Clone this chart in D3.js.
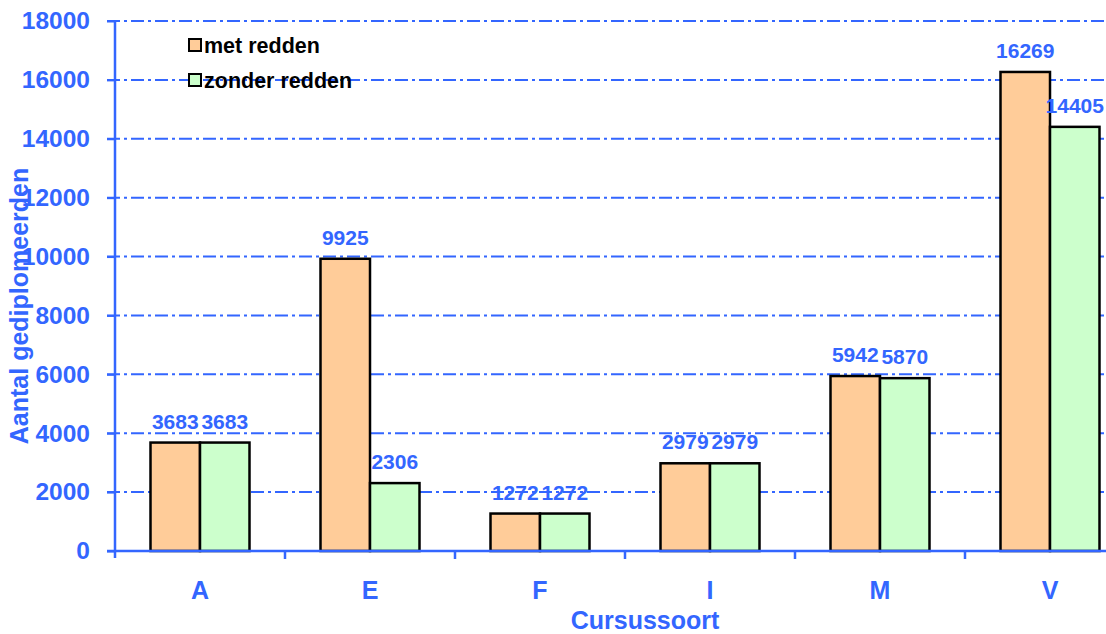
<!DOCTYPE html>
<html><head><meta charset="utf-8">
<script src="https://cdn.jsdelivr.net/npm/d3@7"></script>
<style>
body{margin:0;background:#fff;}
svg{display:block;font-family:"Liberation Sans",Arial,sans-serif;font-weight:bold;}
</style></head>
<body>
<svg id="chart" width="1106" height="634"></svg>
<script>
const categories = ["A","E","F","I","M","V"];
const seriesNames = ["met redden","zonder redden"];
const metRedden = [3683, 9925, 1272, 2979, 5942, 16269];
const zonderRedden = [3683, 2306, 1272, 2979, 5870, 14405];
const yTicks = [0,2000,4000,6000,8000,10000,12000,14000,16000,18000];
const colors = ["#FFCC99","#CCFFCC"];
const blue = "#3366FF";

const svg = d3.select("#chart");
const x0 = 115, y0 = 551, yTop = 21;
const x = d3.scaleBand().domain(categories).range([x0, x0 + 170*categories.length]).padding(0);
const xs = d3.scaleBand().domain(seriesNames).range([35.5, 134.5]).padding(0);
const y = d3.scaleLinear().domain([0,18000]).range([y0, yTop]);

// gridlines
svg.append("g").selectAll("line").data(yTicks.filter(d=>d>0)).join("line")
  .attr("x1", 107).attr("x2", 1106)
  .attr("y1", d=>y(d)).attr("y2", d=>y(d))
  .attr("stroke", blue).attr("stroke-width", 2)
  .attr("stroke-dasharray", "13,4,3,4");

// y axis
const yAxis = svg.append("g").attr("transform", `translate(${x0},0)`)
  .call(d3.axisLeft(y).tickValues(yTicks).tickSize(8).tickPadding(17).tickFormat(d3.format("d")));
yAxis.select(".domain").attr("stroke", blue).attr("stroke-width", 2.5).attr("d", `M0,${yTop}V${y0+7}`);
yAxis.selectAll(".tick line").attr("stroke", blue).attr("stroke-width", 2);
yAxis.selectAll(".tick text").attr("fill", blue).attr("font-size", 24.5).attr("font-weight","bold")
  .attr("font-family", '"Liberation Sans",Arial,sans-serif');

// bars
const data = categories.map((c,i)=>({cat:c, vals:[metRedden[i], zonderRedden[i]]}));
const groups = svg.append("g").selectAll("g").data(data).join("g")
  .attr("transform", d=>`translate(${x(d.cat)},0)`);
groups.selectAll("rect").data(d=>d.vals.map((v,j)=>({v, s:seriesNames[j], j}))).join("rect")
  .attr("x", d=>xs(d.s)).attr("width", xs.bandwidth())
  .attr("y", d=>y(d.v)).attr("height", d=>y0 - y(d.v))
  .attr("fill", d=>colors[d.j]).attr("stroke", "#000").attr("stroke-width", 2.5);
groups.selectAll("text").data(d=>d.vals.map((v,j)=>({v, s:seriesNames[j], j}))).join("text")
  .attr("x", d=>xs(d.s) + xs.bandwidth()/2).attr("y", d=>y(d.v) - 14)
  .attr("text-anchor","middle").attr("fill", blue).attr("font-size", 21)
  .text(d=>d.v);

// x axis
const xAxis = svg.append("g").attr("transform", `translate(0,${y0})`)
  .call(d3.axisBottom(x).tickSize(0).tickPadding(30));
xAxis.select(".domain").attr("stroke", blue).attr("stroke-width", 2.5).attr("d", `M107,0H1106`);
xAxis.selectAll(".tick text").attr("fill", blue).attr("font-size", 25).attr("font-weight","bold")
  .attr("font-family", '"Liberation Sans",Arial,sans-serif');
svg.append("g").selectAll("line").data(categories.map((c,i)=>x.range()[0] + 170*(i+1))).join("line")
  .attr("x1", d=>d).attr("x2", d=>d).attr("y1", y0).attr("y2", y0+8)
  .attr("stroke", blue).attr("stroke-width", 2.5);

// axis titles
svg.append("text").attr("x", 645).attr("y", 629).attr("text-anchor","middle")
  .attr("fill", blue).attr("font-size", 25).text("Cursussoort");
svg.append("text").attr("transform","translate(28,306) rotate(-90)").attr("text-anchor","middle")
  .attr("fill", blue).attr("font-size", 25).text("Aantal gediplomeerden");

// legend
const leg = svg.append("g").selectAll("g").data(seriesNames).join("g")
  .attr("transform", (d,i)=>`translate(189,${39 + i*35})`);
leg.append("rect").attr("width", 12).attr("height", 12)
  .attr("fill", (d,i)=>colors[i]).attr("stroke","#000").attr("stroke-width", 2);
leg.append("text").attr("x", 15).attr("y", 14).attr("fill","#000").attr("font-size", 21.5)
  .text(d=>d);
</script>
</body></html>
